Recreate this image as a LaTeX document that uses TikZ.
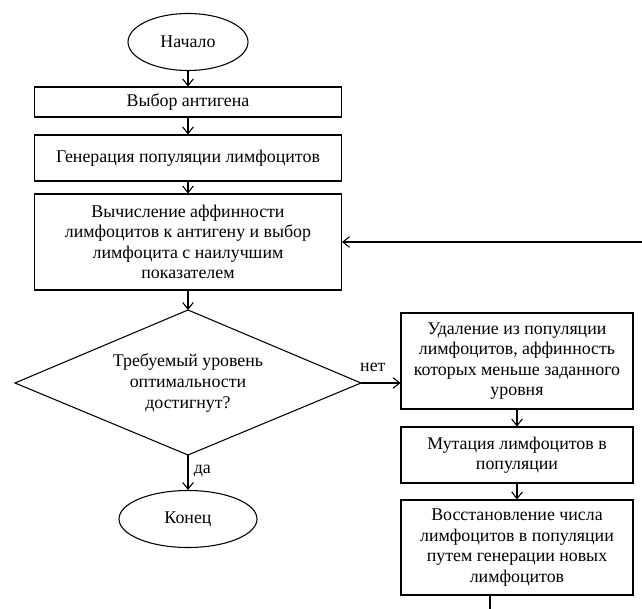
\documentclass[tikz,border=0pt]{standalone}
\usepackage{fontspec}
\setmainfont{Liberation Serif}
\usetikzlibrary{shapes.geometric,arrows.meta}
\begin{document}
\begin{tikzpicture}[x=0.75pt,y=-0.75pt,
  font=\fontsize{13.4}{15.4}\selectfont,
  box/.style={draw, line width=0.8pt, align=center, inner sep=0pt, rectangle},
  term/.style={draw, line width=0.8pt, ellipse, inner sep=0pt},
  arr/.style={-{Straight Barb[length=5pt,width=8pt]}, line width=0.8pt},
  lbl/.style={inner sep=0pt}]
\useasboundingbox (0,0) rectangle (642,609);

\node[term, minimum width=120*0.75pt, minimum height=57*0.75pt] (start) at (188,42) {Начало};
\node[box, minimum width=307*0.75pt, minimum height=30*0.75pt] (b1) at (188,102) {Выбор антигена};
\node[box, minimum width=307*0.75pt, minimum height=46*0.75pt] (b2) at (188,158) {Генерация популяции лимфоцитов};
\node[box, minimum width=307*0.75pt, minimum height=96*0.75pt] (b3) at (188,242)
  {Вычисление аффинности\\лимфоцитов к антигену и выбор\\лимфоцита с наилучшим\\показателем};

\coordinate (decT) at (188,310);
\coordinate (decB) at (188,455);
\coordinate (decL) at (15,383);
\coordinate (decR) at (361,383);
\draw[line width=0.8pt] (decT) -- (decR) -- (decB) -- (decL) -- cycle;
\node[align=center, inner sep=0pt] (dec) at (188,383)
  {Требуемый уровень\\оптимальности\\достигнут?};

\node[term, minimum width=138*0.75pt, minimum height=57*0.75pt] (end) at (188,519) {Конец};

\node[box, minimum width=232*0.75pt, minimum height=96*0.75pt] (r1) at (517,361)
  {Удаление из популяции\\лимфоцитов, аффинность\\которых меньше заданного\\уровня};
\node[box, minimum width=232*0.75pt, minimum height=56*0.75pt] (r2) at (517,455)
  {Мутация лимфоцитов в\\популяции};
\node[box, minimum width=232*0.75pt, minimum height=95*0.75pt] (r3) at (517,547.5)
  {Восстановление числа\\лимфоцитов в популяции\\путем генерации новых\\лимфоцитов};

\coordinate (fbR) at (642,242);
\coordinate (fbB) at (490,609);

\draw[arr] (start) -- (b1);
\draw[arr] (b1) -- (b2);
\draw[arr] (b2) -- (b3);
\draw[arr] (b3) -- (decT);
\draw[arr] (decB) -- node[lbl, right, pos=0.45, xshift=4pt] {да} (end);
\draw[arr] (decR) -- node[lbl, above, pos=0.3, yshift=8pt] {нет} (decR -| r1.west);
\draw[arr] (r1) -- (r2);
\draw[arr] (r2) -- (r3);
\draw[line width=0.8pt] (r3.south -| fbB) -- (fbB);
\draw[arr] (fbR) -- (b3.east);
\end{tikzpicture}
\end{document}
